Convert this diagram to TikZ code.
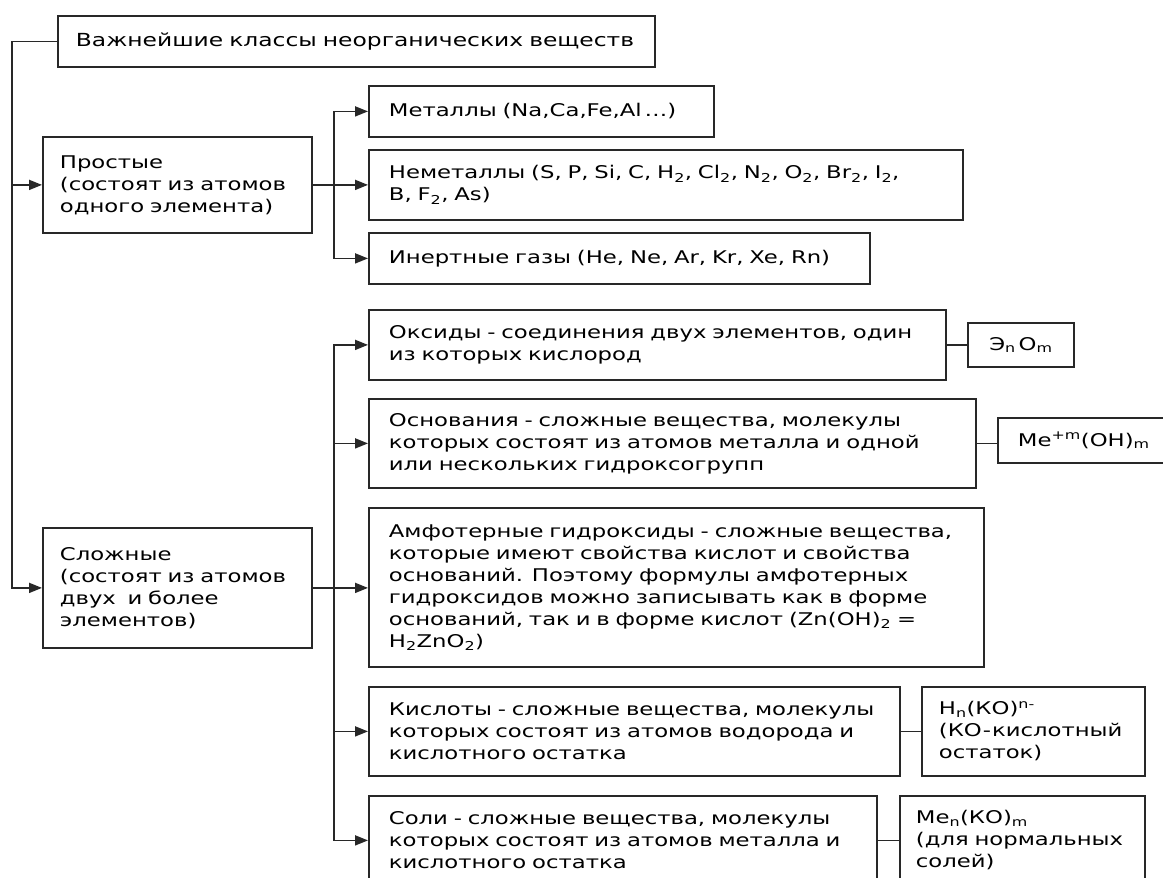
\documentclass[tikz,border=0pt]{standalone}
\usepackage{fontspec}
\setmainfont{DejaVu Sans}[FakeStretch=1.30]
\definecolor{linegray}{RGB}{40,40,40}
\usetikzlibrary{arrows.meta,positioning}

\begin{document}
\begin{tikzpicture}[x=1pt,y=-1pt,font=\fontsize{17.5}{22}\selectfont,
  box/.style={draw=linegray,line width=1.8pt,anchor=north west,align=left,inner xsep=20pt,inner ysep=0pt},
  arr/.style={draw=linegray,line width=1.8pt,-{Triangle[length=13pt,width=10pt]}},
  ln/.style={draw=linegray,line width=1.8pt}]
  \useasboundingbox (0,0) rectangle (1163,878);
  \fill[white] (0,0) rectangle (1163,878);
  \clip (0,0) rectangle (1163,878);

  \node[box,font=\fontsize{18}{22}\selectfont,inner xsep=18pt,text width=561pt,minimum height=51pt] (top) at (57,15) {Важнейшие~классы~неорганических~веществ};
  \node[box,inner xsep=17pt,text width=235pt,minimum height=96pt] (prost) at (42,136) {Простые\\(состоят из атомов\\одного элемента)};
  \node[box,inner xsep=17pt,text width=235pt,minimum height=120pt] (slozh) at (42,527) {Сложные\\(состоят из атомов\\двух\ \ и более\\элементов)};

  % простые вещества
  \node[box,text width=305pt,minimum height=51pt] (met) at (368,85) {Металлы (Na,Ca,Fe,Al\,…)};
  \node[box,text width=554pt,minimum height=70pt] (nemet) at (368,149) {Неметаллы (S, P, Si, C, H\textsubscript{2}, Cl\textsubscript{2}, N\textsubscript{2}, O\textsubscript{2}, Br\textsubscript{2}, I\textsubscript{2},\\B, F\textsubscript{2}, As)};
  \node[box,text width=461pt,minimum height=51pt] (inert) at (368,232) {Инертные газы (He, Ne, Ar, Kr, Xe, Rn)};

  % сложные вещества
  \node[box,text width=537pt,minimum height=70pt] (oks) at (368,309) {Оксиды - соединения двух элементов, один\\из которых кислород};
  \node[box,inner xsep=0pt,text width=106pt,align=center,minimum height=44pt] (eo) at (967,322) {Э\textsubscript{n}\,O\textsubscript{m}};
  \node[box,text width=567pt,minimum height=89pt] (osn) at (368,398) {Основания - сложные вещества, молекулы\\которых состоят из атомов металла и одной\\или нескольких гидроксогрупп};
  \node[box,text width=160pt,minimum height=45pt] (meoh) at (997,417) {Me\textsuperscript{+m}(OH)\textsubscript{m}};
  \node[box,text width=575pt,minimum height=159pt] (amf) at (368,507) {Амфотерные гидроксиды - сложные вещества,\\которые имеют свойства кислот и свойства\\оснований. Поэтому формулы амфотерных\\гидроксидов можно записывать как в форме\\оснований, так и в форме кислот (Zn(OH)\textsubscript{2} =\\H\textsubscript{2}ZnO\textsubscript{2})};
  \node[box,text width=491pt,minimum height=89pt] (kisl) at (368,686) {Кислоты - сложные вещества, молекулы\\которых состоят из атомов водорода и\\кислотного остатка};
  \node[box,inner xsep=17pt,text width=189pt,minimum height=89pt] (hko) at (921,686) {H\textsubscript{n}(КО)\textsuperscript{n-}\\(КО\kern1pt-\kern1pt кислотный\\остаток)};
  \node[box,text width=468pt,minimum height=89pt] (soli) at (368,795) {Соли - сложные вещества, молекулы\\которых состоят из атомов металла и\\кислотного остатка};
  \node[box,inner xsep=16pt,text width=213pt,minimum height=89pt] (meko) at (899,795) {Me\textsubscript{n}(КО)\textsubscript{m}\\(для нормальных\\солей)};

  \coordinate (spine) at (12,0);
  \coordinate (fork) at (334,0);

  \draw[arr] (top.west) -| (spine |- slozh.west) -- (slozh.west);
  \draw[arr] (spine |- prost.west) -- (prost.west);

  \draw[ln] (prost.east) -- (fork |- prost.east);
  \draw[arr] (fork |- prost.east) |- (met.west);
  \draw[arr] (fork |- prost.east) -- (nemet.west);
  \draw[arr] (fork |- prost.east) |- (inert.west);

  \draw[ln] (slozh.east) -- (fork |- slozh.east);
  \draw[arr] (fork |- slozh.east) |- (oks.west);
  \draw[arr] (fork |- slozh.east) |- (osn.west);
  \draw[arr] (fork |- slozh.east) -- (amf.west |- slozh.east);
  \draw[arr] (fork |- slozh.east) |- (kisl.west);
  \draw[arr] (fork |- slozh.east) |- (soli.west);

  \draw[ln] (oks.east) -- (oks.east -| eo.west);
  \draw[ln] (osn.east) -- (osn.east -| meoh.west);
  \draw[ln] (kisl.east) -- (kisl.east -| hko.west);
  \draw[ln] (soli.east) -- (soli.east -| meko.west);
\end{tikzpicture}
\end{document}
